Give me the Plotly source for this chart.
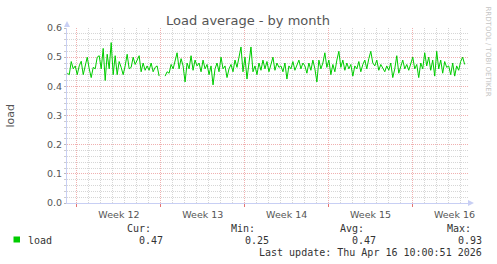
import pandas as pd
import plotly.graph_objects as go

# ---- data ----
load_values = [
    0.445, 0.44, 0.485, 0.46, 0.47, 0.44, 0.47, 0.486, 0.44, 0.47,
    0.50, 0.46, 0.43, 0.465, 0.46, 0.50, 0.505, 0.46, 0.53, 0.42,
    0.51, 0.46, 0.55, 0.44, 0.505, 0.44, 0.485, 0.465, 0.44, 0.47,
    0.51, 0.46, 0.465, 0.50, 0.475, 0.49, 0.505, 0.45, 0.48, 0.455,
    0.47, 0.455, 0.48, 0.45, 0.465, 0.47, 0.435, None, None, 0.435,
    0.45, 0.445, 0.475, 0.46, 0.49, 0.515, 0.46, 0.495, 0.47, 0.415,
    0.48, 0.46, 0.505, 0.455, 0.49, 0.47, 0.48, 0.45, 0.49, 0.46,
    0.475, 0.44, 0.47, 0.405, 0.46, 0.48, 0.45, 0.50, 0.46, 0.47,
    0.43, 0.46, 0.475, 0.45, 0.49, 0.465, 0.50, 0.535, 0.45, 0.50,
    0.425, 0.49, 0.535, 0.45, 0.47, 0.44, 0.48, 0.455, 0.49, 0.46,
    0.485, 0.45, 0.475, 0.50, 0.455, 0.48, 0.465, 0.47, 0.45, 0.48,
    0.425, 0.47, 0.46, 0.485, 0.455, 0.47, 0.49, 0.46, 0.48, 0.47,
    0.445, 0.48, 0.455, 0.49, 0.46, 0.415, 0.49, 0.46, 0.48, 0.515,
    0.465, 0.49, 0.44, 0.475, 0.45, 0.49, 0.52, 0.465, 0.49, 0.455,
    0.48, 0.46, 0.475, 0.435, 0.47, 0.46, 0.485, 0.45, 0.475, 0.49,
    0.46, 0.495, 0.52, 0.48, 0.47, 0.49, 0.455, 0.475, 0.46, 0.45,
    0.47, 0.455, 0.48, 0.43, 0.46, 0.505, 0.445, 0.47, 0.49, 0.46,
    0.475, 0.455, 0.48, 0.50, 0.46, 0.475, 0.43, 0.48, 0.46, 0.515,
    0.47, 0.50, 0.455, 0.49, 0.435, 0.52, 0.46, 0.49, 0.445, 0.485,
    0.465, 0.47, 0.44, 0.48, 0.435, 0.47, 0.455, 0.485, 0.50, 0.475,
]
times = pd.date_range("2026-03-15 04:30", periods=len(load_values), freq="4h")

x_range = ["2026-03-15 04:00", "2026-04-17 15:10"]
y_range = [0, 0.6]

title_text = "Load average - by month"
y_title = "load"
side_text = "RRDTOOL / TOBI OETIKER"
legend_name = "load"
stat_labels = ["Cur:", "Min:", "Avg:", "Max:"]
stat_values = ["0.47", "0.25", "0.47", "0.93"]
last_update = "Last update: Thu Apr 16 10:00:51 2026"

# day gridlines (skip Mondays, which carry the week gridlines)
days = pd.date_range("2026-03-15", "2026-04-17", freq="D")
minor_days = [d.strftime("%Y-%m-%d") for d in days if d.weekday() != 0]

# ---- layout geometry (pixels) ----
WIDTH, HEIGHT = 497, 264
L, R, T, B = 67, 468, 28, 203
PW, PH = R - L, B - T

def px(x):
    return (x - L) / PW

def py(y):
    return (B - y) / PH

GREEN = "#00cc00"
TXT = "#555555"
MGRID = "rgba(235,150,150,0.75)"
GRID = "#d6d6d6"
AXIS = "#c8cff4"
MONO = "DejaVu Sans Mono"
SANS = "DejaVu Sans"

fig = go.Figure()
fig.add_trace(go.Scatter(
    x=times, y=load_values, mode="lines",
    line=dict(color=GREEN, width=1), connectgaps=False,
    showlegend=False, hoverinfo="skip",
))

fig.update_layout(
    width=WIDTH, height=HEIGHT,
    margin=dict(l=L, r=WIDTH - R, t=T, b=HEIGHT - B, pad=0),
    paper_bgcolor="white", plot_bgcolor="white",
    showlegend=False,
    title=dict(text=title_text, x=(248) / WIDTH, xanchor="center",
               y=1 - 20 / HEIGHT, yanchor="middle",
               font=dict(family=SANS, size=13, color=TXT)),
    xaxis=dict(
        type="date", range=x_range,
        tick0="2026-03-16", dtick=7 * 86400000,
        tickformat="Week %V", ticklabelmode="period",
        showgrid=True, gridcolor=MGRID, griddash="1px,1px", gridwidth=1,
        ticks="outside", ticklen=3, tickcolor="rgba(225,100,100,0.9)",
        showline=True, linecolor=AXIS, linewidth=1,
        zeroline=False,
        tickfont=dict(family=SANS, size=9.5, color=TXT),
        minor=dict(tickmode="array", tickvals=minor_days, showgrid=True,
                   gridcolor=GRID, griddash="1px,1px", gridwidth=1),
        fixedrange=True,
    ),
    yaxis=dict(
        range=y_range, dtick=0.1, tick0=0, tickformat=".1f",
        showgrid=True, gridcolor=MGRID, griddash="1px,1px", gridwidth=1,
        ticks="outside", ticklen=2, tickcolor="#bbbbbb",
        showline=True, linecolor=AXIS, linewidth=1,
        zeroline=False,
        tickfont=dict(family=SANS, size=9.5, color=TXT),
        minor=dict(dtick=0.02, showgrid=True, gridcolor=GRID,
                   griddash="1px,1px", gridwidth=1,
                   ticks="outside", ticklen=2, tickcolor="#cccccc"),
        fixedrange=True,
    ),
)

# axis arrows
fig.add_shape(type="path", xref="paper", yref="paper",
              path=f"M {px(64)} {py(27)} L {px(70)} {py(27)} L {px(67)} {py(21)} Z",
              fillcolor=AXIS, line=dict(width=0))
fig.add_shape(type="path", xref="paper", yref="paper",
              path=f"M {px(468)} {py(200)} L {px(468)} {py(206)} L {px(474)} {py(203)} Z",
              fillcolor=AXIS, line=dict(width=0))

# y axis title
fig.add_annotation(text=y_title, xref="paper", yref="paper",
                   x=px(9.5), y=py(116), textangle=-90, showarrow=False,
                   xanchor="center", yanchor="middle", borderpad=0,
                   font=dict(family=SANS, size=11, color=TXT))
# side watermark
fig.add_annotation(text=side_text, xref="paper", yref="paper",
                   x=px(487.5), y=py(5), textangle=90, showarrow=False,
                   xanchor="center", yanchor="top", borderpad=0,
                   font=dict(family=SANS, size=7, color="#c4c4c4"))

# legend
fig.add_shape(type="rect", xref="paper", yref="paper",
              x0=px(13.5), x1=px(20), y0=py(242.5), y1=py(236.5),
              fillcolor=GREEN, line=dict(width=0))
fig.add_annotation(text=legend_name, xref="paper", yref="paper",
                   x=px(26.5), y=py(240), showarrow=False,
                   xanchor="left", yanchor="middle", borderpad=0,
                   font=dict(family=MONO, size=10, color="#333333"))
label_right = [152, 256, 365, 472]
value_right = [163.5, 269.5, 376.5, 483]
for lab, val, lr, vr in zip(stat_labels, stat_values, label_right, value_right):
    fig.add_annotation(text=lab, xref="paper", yref="paper",
                       x=px(lr), y=py(228), showarrow=False,
                       xanchor="right", yanchor="middle", borderpad=0,
                       font=dict(family=MONO, size=10, color="#333333"))
    fig.add_annotation(text=val, xref="paper", yref="paper",
                       x=px(vr), y=py(240), showarrow=False,
                       xanchor="right", yanchor="middle", borderpad=0,
                       font=dict(family=MONO, size=10, color="#333333"))
fig.add_annotation(text=last_update, xref="paper", yref="paper",
                   x=px(483), y=py(252), showarrow=False,
                   xanchor="right", yanchor="middle", borderpad=0,
                   font=dict(family=MONO, size=10, color="#333333"))

fig.write_html("out.html", config={"displayModeBar": False})
